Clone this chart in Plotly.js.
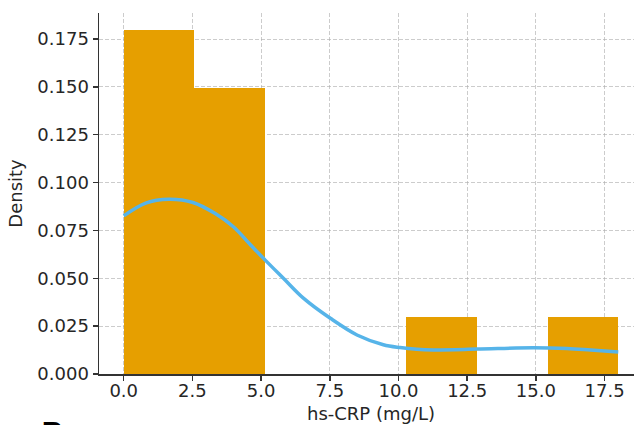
<!DOCTYPE html>
<html>
<head>
<meta charset="utf-8">
<script src="https://cdn.plot.ly/plotly-3.0.1.min.js"></script>
<style>
html, body { margin: 0; padding: 0; overflow: hidden; background: #ffffff; }
#chart { width: 643px; height: 425px; }
</style>
</head>
<body>
<div id="chart"></div>
<script>
// Histogram bins (hs-CRP, mg/L) and counts per bin
const binEdges = [0, 2.571, 5.143, 7.714, 10.286, 12.857, 15.429, 18.0];
const binCounts = [6, 5, 0, 0, 1, 0, 1];

// KDE curve
const kdeX = [0, 0.8, 1.64, 2.52, 3.33, 4.0, 4.61, 5.15, 5.82, 6.55, 7.52, 8.49, 9.45, 10.06, 10.67, 11.27, 12.85, 14.9, 16.13, 17.0, 18.0];
const kdeY = [0.0826, 0.0893, 0.0913, 0.0896, 0.0838, 0.0768, 0.0675, 0.0595, 0.0499, 0.0395, 0.0291, 0.0204, 0.0153, 0.0138, 0.0129, 0.0126, 0.0130, 0.0137, 0.0133, 0.0125, 0.0115];

const xTickVals = [0, 2.5, 5, 7.5, 10, 12.5, 15, 17.5];
const yTickVals = [0, 0.025, 0.05, 0.075, 0.1, 0.125, 0.15, 0.175];

const total = binCounts.reduce((a, b) => a + b, 0);
const centers = [], widths = [], density = [];
for (let i = 0; i < binCounts.length; i++) {
  const w = binEdges[i + 1] - binEdges[i];
  centers.push((binEdges[i] + binEdges[i + 1]) / 2);
  widths.push(w);
  density.push(binCounts[i] / (total * w));
}

const bars = {
  type: 'bar',
  x: centers,
  y: density,
  width: widths,
  marker: { color: '#E69F00', line: { width: 0 } },
  hoverinfo: 'x+y',
  showlegend: false
};

const kde = {
  type: 'scatter',
  mode: 'lines',
  x: kdeX,
  y: kdeY,
  line: { color: '#56B4E9', width: 3.5, shape: 'spline', smoothing: 1.0 },
  showlegend: false
};

const axisCommon = {
  showline: true,
  linecolor: '#333333',
  linewidth: 1.5,
  ticks: 'outside',
  ticklen: 5,
  tickwidth: 1.5,
  tickcolor: '#333333',
  showgrid: true,
  gridcolor: 'rgba(170,170,170,0.6)',
  gridwidth: 1,
  griddash: '4px,2px',
  zeroline: false,
  layer: 'above traces',
  automargin: false,
  tickfont: { family: 'DejaVu Sans', size: 18, color: '#262626' }
};

const layout = {
  width: 643,
  height: 425,
  margin: { l: 99, r: 0, t: 13, b: 51 },
  paper_bgcolor: '#ffffff',
  plot_bgcolor: '#ffffff',
  bargap: 0,
  font: { family: 'DejaVu Sans', size: 18, color: '#262626' },
  xaxis: Object.assign({}, axisCommon, {
    range: [-0.9, 18.9],
    tickvals: xTickVals,
    ticktext: xTickVals.map(v => v.toFixed(1)),
    ticklabelstandoff: -5,
    title: { text: 'hs-CRP (mg/L)', standoff: 7, font: { family: 'DejaVu Sans', size: 18, color: '#262626' } }
  }),
  yaxis: Object.assign({}, axisCommon, {
    range: [0, 0.1886],
    tickvals: yTickVals,
    ticktext: yTickVals.map(v => v.toFixed(3)),
    title: { text: 'Density', standoff: 10, font: { family: 'DejaVu Sans', size: 18, color: '#262626' } }
  }),
  annotations: [{
    text: '<b>B</b>',
    xref: 'paper', yref: 'paper',
    x: -0.11, y: -0.11,
    xanchor: 'left', yanchor: 'top',
    showarrow: false,
    font: { family: 'DejaVu Sans', size: 30, color: '#000000' }
  }]
};

Plotly.newPlot('chart', [bars, kde], layout, { displayModeBar: false, staticPlot: true });
</script>
</body>
</html>
